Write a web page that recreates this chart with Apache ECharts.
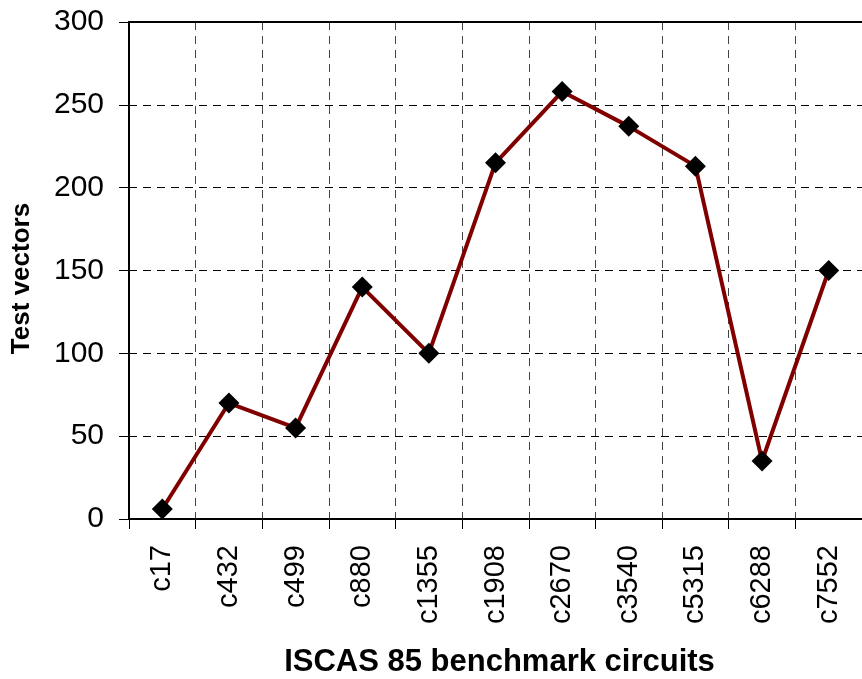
<!DOCTYPE html>
<html>
<head>
<meta charset="utf-8">
<script src="https://cdn.jsdelivr.net/npm/echarts@6/dist/echarts.min.js"></script>
<style>
html, body { margin: 0; padding: 0; background: #fff; }
#chart { width: 862px; height: 679px; }
</style>
</head>
<body>
<div id="chart"></div>
<script>
// circuits on the x axis
const circuits = ['c17', 'c432', 'c499', 'c880', 'c1355', 'c1908', 'c2670', 'c3540', 'c5315', 'c6288', 'c7552'];
// number of test vectors per circuit
const testVectors = [6, 70, 55, 140, 100, 215, 258, 237, 213, 35, 150];
const yTicks = [0, 50, 100, 150, 200, 250, 300];

const chart = echarts.init(document.getElementById('chart'), null, { renderer: 'canvas' });
const font = 'Liberation Sans, Arial, sans-serif';

chart.setOption({
  animation: false,
  grid: { left: 129, right: 0, top: 22, bottom: 160, containLabel: false, outerBoundsMode: 'none' },
  xAxis: [
    {
      type: 'category',
      data: circuits,
      boundaryGap: true,
      name: 'ISCAS 85 benchmark circuits',
      nameLocation: 'middle',
      nameGap: 128,
      nameTextStyle: { fontFamily: font, fontSize: 31, fontWeight: 'bold', color: '#000', padding: [0, 0, 0, 8] },
      axisLine: { lineStyle: { color: '#000', width: 2 } },
      axisTick: { show: true, length: 10, interval: 0, lineStyle: { color: '#000', width: 1 } },
      axisLabel: {
        rotate: 90, interval: 0, margin: 26,
        fontFamily: font, fontSize: 29, color: '#000'
      },
      splitLine: { show: true, interval: 0, lineStyle: { color: '#444', type: [8, 6], width: 1 } }
    },
    {
      // top frame line
      type: 'category',
      data: circuits,
      position: 'top',
      axisLine: { lineStyle: { color: '#000', width: 2 } },
      axisTick: { show: false },
      axisLabel: { show: false },
      splitLine: { show: false }
    }
  ],
  yAxis: {
    type: 'value',
    min: yTicks[0],
    max: yTicks[yTicks.length - 1],
    interval: 50,
    name: 'Test vectors',
    nameLocation: 'middle',
    nameGap: 94,
    nameTextStyle: { fontFamily: font, fontSize: 26, fontWeight: 'bold', color: '#000', padding: [0, 16, 0, 0] },
    axisLine: { show: true, lineStyle: { color: '#000', width: 2 } },
    axisTick: { show: true, length: 10, lineStyle: { color: '#000', width: 1 } },
    axisLabel: { margin: 25, fontFamily: font, fontSize: 30, color: '#000' },
    splitLine: { show: true, lineStyle: { color: '#000', type: [8, 6], width: 1 } }
  },
  series: [{
    type: 'line',
    data: testVectors,
    symbol: 'diamond',
    symbolSize: 21,
    itemStyle: { color: '#000' },
    lineStyle: { color: '#800000', width: 4 },
    z: 3
  }]
});
</script>
</body>
</html>
